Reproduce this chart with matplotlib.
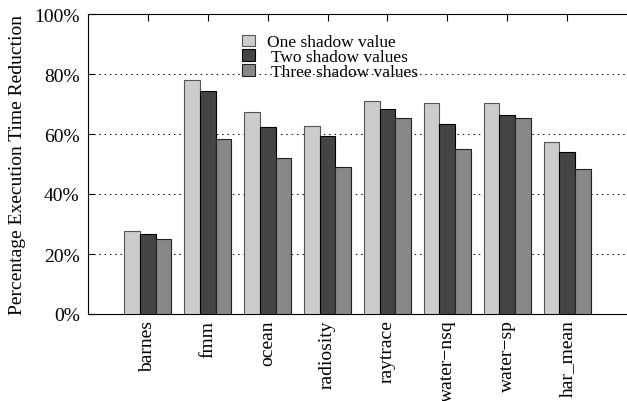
import numpy as np
import matplotlib
matplotlib.use("Agg")
import matplotlib.pyplot as plt
from matplotlib.ticker import FuncFormatter

plt.rcParams["font.family"] = ["Liberation Serif", "DejaVu Serif"]

benchmarks = ["barnes", "fmm", "ocean", "radiosity", "raytrace",
              "water\u2212nsq", "water\u2212sp", "har_mean"]
one_shadow = [27.8, 77.9, 67.2, 62.6, 70.9, 70.2, 70.2, 57.2]
two_shadow = [26.7, 74.2, 62.3, 59.3, 68.2, 63.2, 66.2, 54.0]
three_shadow = [25.1, 58.2, 52.1, 49.1, 65.3, 55.1, 65.3, 48.2]

series = [
    ("One shadow value", one_shadow, "#cccccc", "#555555"),
    (" Two shadow values", two_shadow, "#444444", "black"),
    (" Three shadow values", three_shadow, "#888888", "#222222"),
]

fig = plt.figure(figsize=(6.27, 4.02), dpi=100)
ax = fig.add_axes([88 / 627, 87 / 402, 539 / 627, 300 / 402])

x = np.arange(len(benchmarks))
w = 0.262
for i, (name, vals, col, ec) in enumerate(series):
    ax.bar(x + (i - 1) * w, vals, width=w, color=col, edgecolor=ec,
           linewidth=0.8, label=name, zorder=3)

ax.set_xlim(-1, 8)
ax.set_ylim(0, 100)
ax.set_yticks(np.arange(0, 101, 20))
ax.yaxis.set_major_formatter(FuncFormatter(lambda v, p: f"{v:.0f}%"))
ax.set_xticks(x)
ax.set_xticklabels(benchmarks, rotation=90)
ax.tick_params(axis="both", labelsize=14, direction="in", length=5, width=0.8)
ax.tick_params(axis="x", top=True, bottom=True, pad=4)
ax.tick_params(axis="y", pad=6)
ax.set_ylabel("Percentage Execution Time Reduction", fontsize=14, labelpad=6)

for v in [20, 40, 60, 80]:
    ax.axhline(v, color="black", linestyle=(0, (1.5, 4)), linewidth=0.7, zorder=1)

ax.spines["right"].set_visible(False)
for s in ["left", "top", "bottom"]:
    ax.spines[s].set_linewidth(0.8)

ax.legend(loc="upper left", bbox_to_anchor=(0.285, 0.932), frameon=False,
          fontsize=12.5, handlelength=0.75, handleheight=0.65, handletextpad=0.7,
          labelspacing=-0.07, borderpad=0, borderaxespad=0)

fig.savefig("out.png", dpi=100)
